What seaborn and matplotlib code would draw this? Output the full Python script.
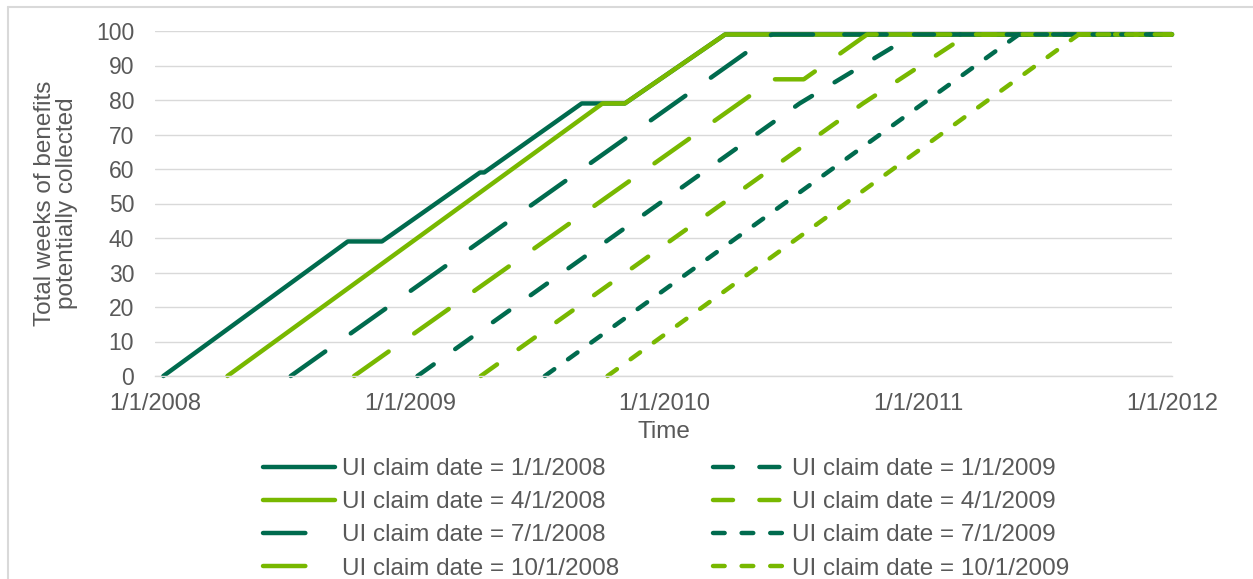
"""
UI benefit weeks potentially collected, by claim date.
Recreates the cumulative-weeks step chart with seaborn / matplotlib.
"""

import matplotlib
matplotlib.use("Agg")
import matplotlib.pyplot as plt
import matplotlib.dates as mdates
from matplotlib.lines import Line2D
import pandas as pd
import seaborn as sns

# ---- data (break points) ----
claim_labels = [
    "UI claim date = 1/1/2008",
    "UI claim date = 4/1/2008",
    "UI claim date = 7/1/2008",
    "UI claim date = 10/1/2008",
    "UI claim date = 1/1/2009",
    "UI claim date = 4/1/2009",
    "UI claim date = 7/1/2009",
    "UI claim date = 10/1/2009",
]

dates_jan08 = ["2008-01-13", "2008-10-04", "2008-11-22", "2009-04-12", "2009-04-18",
               "2009-09-05", "2009-11-06", "2010-03-30", "2012-01-01"]
weeks_jan08 = [0, 39, 39, 59, 59, 79, 79, 99, 99]

dates_apr08 = ["2008-04-14", "2009-10-05", "2009-11-06", "2010-03-30", "2012-01-01"]
weeks_apr08 = [0, 79, 79, 99, 99]

dates_jul08 = ["2008-07-14", "2010-06-05", "2012-01-01"]
weeks_jul08 = [0, 99, 99]

dates_oct08 = ["2008-10-13", "2010-06-07", "2010-07-21", "2010-10-20", "2012-01-01"]
weeks_oct08 = [0, 86, 86, 99, 99]

dates_jan09 = ["2009-01-12", "2010-07-15", "2010-12-26", "2012-01-01"]
weeks_jan09 = [0, 79, 99, 99]

dates_apr09 = ["2009-04-13", "2010-10-14", "2011-03-14", "2012-01-01"]
weeks_apr09 = [0, 79, 99, 99]

dates_jul09 = ["2009-07-14", "2011-05-26", "2012-01-01"]
weeks_jul09 = [0, 99, 99]

dates_oct09 = ["2009-10-12", "2011-08-20", "2012-01-01"]
weeks_oct09 = [0, 99, 99]

series_dates = [dates_jan08, dates_apr08, dates_jul08, dates_oct08,
                dates_jan09, dates_apr09, dates_jul09, dates_oct09]
series_weeks = [weeks_jan08, weeks_apr08, weeks_jul08, weeks_oct08,
                weeks_jan09, weeks_apr09, weeks_jul09, weeks_oct09]

# ---- styling ----
DARK = "#006B4E"
LIGHT = "#78B800"
TEXT = "#595959"
GRID = "#D9D9D9"

LONG = (30.5, 22.5)
MEDIUM = (14.4, 19.0)
SHORT = (8.4, 12.2)

palette = dict(zip(claim_labels, [DARK, LIGHT] * 4))
dash_map = dict(zip(claim_labels, ["", "", LONG, LONG, MEDIUM, MEDIUM, SHORT, SHORT]))

df = pd.concat(
    [pd.DataFrame({"date": pd.to_datetime(d), "weeks": w, "claim": lab})
     for d, w, lab in zip(series_dates, series_weeks, claim_labels)],
    ignore_index=True,
)

sns.set_style("white")
plt.rcParams["font.family"] = ["Liberation Sans", "DejaVu Sans"]
plt.rcParams["lines.scale_dashes"] = False
plt.rcParams["lines.dash_capstyle"] = "round"
plt.rcParams["lines.solid_capstyle"] = "round"
plt.rcParams["lines.dash_joinstyle"] = "round"
plt.rcParams["lines.solid_joinstyle"] = "round"

FS_TICK = 16.5
FS = 17.5

fig = plt.figure(figsize=(12.53, 5.79), dpi=100)
ax = fig.add_axes([155 / 1253, 1 - 376 / 579, (1172 - 155) / 1253, (376 - 31) / 579])

sns.lineplot(
    data=df, x="date", y="weeks", hue="claim", style="claim",
    hue_order=claim_labels, style_order=claim_labels,
    palette=palette, dashes=dash_map,
    estimator=None, errorbar=None, linewidth=3.2, legend=False, ax=ax,
)
for line in ax.get_lines():
    line.set_clip_on(False)
    line.set_dash_capstyle("round")
    line.set_solid_capstyle("round")

# axes
ax.set_xlim(pd.Timestamp("2008-01-01"), pd.Timestamp("2012-01-01"))
ax.set_ylim(0, 100)
ax.set_yticks(range(0, 101, 10))
ax.xaxis.set_major_locator(mdates.MonthLocator(bymonth=[1, 7], bymonthday=1))


def fmt_date(x, pos=None):
    dt = mdates.num2date(x)
    return f"{dt.month}/{dt.day}/{dt.year}" if dt.month == 1 else ""


ax.xaxis.set_major_formatter(plt.FuncFormatter(fmt_date))

ax.grid(axis="y", color=GRID, linewidth=1.0)
ax.grid(axis="x", visible=False)
for side in ["left", "top", "right"]:
    ax.spines[side].set_visible(False)
ax.spines["bottom"].set_color(GRID)
ax.spines["bottom"].set_linewidth(1.0)

ax.tick_params(axis="y", length=0, pad=15, labelsize=FS_TICK, labelcolor=TEXT)
ax.tick_params(axis="x", length=5, width=1.0, color=GRID, direction="out",
               pad=7, labelsize=17, labelcolor=TEXT)

ax.set_xlabel("Time", fontsize=FS, color=TEXT, labelpad=4.5)
ax.set_ylabel("Total weeks of benefits\npotentially collected", fontsize=FS,
              color=TEXT, linespacing=1.0)
ax.yaxis.set_label_coords(-0.0757, 0.5)

# legend below plot, two columns
handles = ax.get_lines()[:len(claim_labels)]
fig.legend(
    handles, claim_labels, ncol=2, loc="upper left",
    bbox_to_anchor=(263 / 1253, 1 - 458 / 579), frameon=False,
    fontsize=FS, labelcolor=TEXT, handlelength=2.97, handletextpad=0.27,
    columnspacing=3.87, labelspacing=0.46, borderpad=0, borderaxespad=0,
)

# outer chart border (top and left visible)
fig.add_artist(Line2D([8 / 1253, 1.0], [1 - 7 / 579, 1 - 7 / 579],
                      transform=fig.transFigure, color=GRID, linewidth=1.5))
fig.add_artist(Line2D([8 / 1253, 8 / 1253], [0.0, 1 - 7 / 579],
                      transform=fig.transFigure, color=GRID, linewidth=1.5))

fig.savefig("out.png", dpi=100)
plt.close(fig)
